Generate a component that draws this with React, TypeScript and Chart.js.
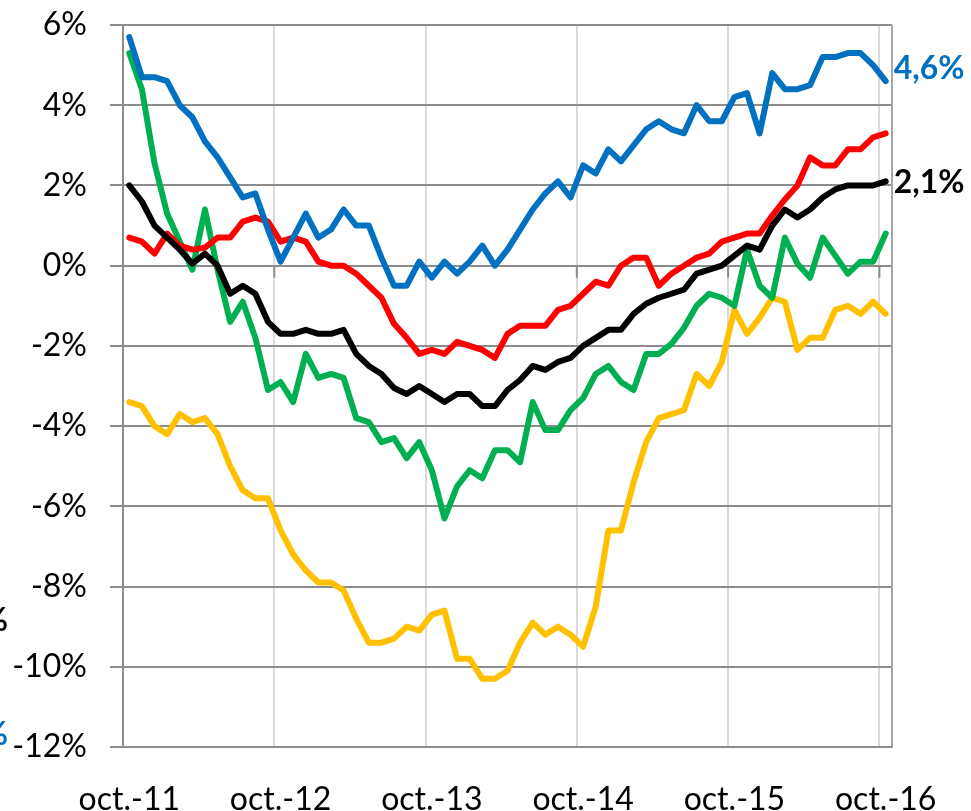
import React, { useEffect, useRef } from 'react';
import { Chart, registerables } from 'chart.js';

Chart.register(...registerables);

const categories = [
  'oct.-11', 'nov.-11', 'déc.-11',
  'janv.-12', 'févr.-12', 'mars-12', 'avr.-12', 'mai-12', 'juin-12', 'juil.-12', 'août-12', 'sept.-12', 'oct.-12', 'nov.-12', 'déc.-12',
  'janv.-13', 'févr.-13', 'mars-13', 'avr.-13', 'mai-13', 'juin-13', 'juil.-13', 'août-13', 'sept.-13', 'oct.-13', 'nov.-13', 'déc.-13',
  'janv.-14', 'févr.-14', 'mars-14', 'avr.-14', 'mai-14', 'juin-14', 'juil.-14', 'août-14', 'sept.-14', 'oct.-14', 'nov.-14', 'déc.-14',
  'janv.-15', 'févr.-15', 'mars-15', 'avr.-15', 'mai-15', 'juin-15', 'juil.-15', 'août-15', 'sept.-15', 'oct.-15', 'nov.-15', 'déc.-15',
  'janv.-16', 'févr.-16', 'mars-16', 'avr.-16', 'mai-16', 'juin-16', 'juil.-16', 'août-16', 'sept.-16', 'oct.-16',
];

const shownTickLabels = ['oct.-11', 'oct.-12', 'oct.-13', 'oct.-14', 'oct.-15', 'oct.-16'];

const blueSeries = [
  5.7, 4.7, 4.7, 4.6, 4.0, 3.7, 3.1, 2.7, 2.2, 1.7,
  1.8, 0.9, 0.1, 0.7, 1.3, 0.7, 0.9, 1.4, 1.0, 1.0,
  0.2, -0.5, -0.5, 0.1, -0.3, 0.1, -0.2, 0.1, 0.5, 0.0,
  0.4, 0.9, 1.4, 1.8, 2.1, 1.7, 2.5, 2.3, 2.9, 2.6,
  3.0, 3.4, 3.6, 3.4, 3.3, 4.0, 3.6, 3.6, 4.2, 4.3,
  3.3, 4.8, 4.4, 4.4, 4.5, 5.2, 5.2, 5.3, 5.3, 5.0, 4.6,
];

const redSeries = [
  0.7, 0.6, 0.3, 0.8, 0.5, 0.4, 0.45, 0.7, 0.7, 1.1,
  1.2, 1.1, 0.6, 0.7, 0.6, 0.1, 0.0, 0.0, -0.2, -0.5,
  -0.8, -1.45, -1.8, -2.2, -2.1, -2.2, -1.9, -2.0, -2.1, -2.3,
  -1.7, -1.5, -1.5, -1.5, -1.1, -1.0, -0.7, -0.4, -0.5, 0.0,
  0.2, 0.2, -0.5, -0.2, 0.0, 0.2, 0.3, 0.6, 0.7, 0.8,
  0.8, 1.25, 1.65, 2.0, 2.7, 2.5, 2.5, 2.9, 2.9, 3.2, 3.3,
];

const blackSeries = [
  2.0, 1.6, 1.0, 0.7, 0.4, 0.05, 0.3, 0.0, -0.7, -0.5,
  -0.7, -1.4, -1.7, -1.7, -1.6, -1.7, -1.7, -1.6, -2.2, -2.5,
  -2.7, -3.05, -3.2, -3.0, -3.2, -3.4, -3.2, -3.2, -3.5, -3.5,
  -3.1, -2.85, -2.5, -2.6, -2.4, -2.3, -2.0, -1.8, -1.6, -1.6,
  -1.2, -0.95, -0.8, -0.7, -0.6, -0.2, -0.1, 0.0, 0.25, 0.5,
  0.4, 1.0, 1.4, 1.2, 1.4, 1.7, 1.9, 2.0, 2.0, 2.0, 2.1,
];

const greenSeries = [
  5.3, 4.4, 2.55, 1.3, 0.6, -0.1, 1.4, -0.1, -1.4, -0.9,
  -1.8, -3.1, -2.9, -3.4, -2.2, -2.8, -2.7, -2.8, -3.8, -3.9,
  -4.4, -4.3, -4.8, -4.4, -5.1, -6.3, -5.5, -5.1, -5.3, -4.6,
  -4.6, -4.9, -3.4, -4.1, -4.1, -3.6, -3.3, -2.7, -2.5, -2.9,
  -3.1, -2.2, -2.2, -1.95, -1.55, -1.0, -0.7, -0.8, -1.0, 0.4,
  -0.5, -0.8, 0.7, 0.05, -0.3, 0.7, 0.25, -0.2, 0.1, 0.1, 0.8,
];

const yellowSeries = [
  -3.4, -3.5, -4.0, -4.2, -3.7, -3.9, -3.8, -4.2, -5.0, -5.6,
  -5.8, -5.8, -6.6, -7.2, -7.6, -7.9, -7.9, -8.1, -8.8, -9.4,
  -9.4, -9.3, -9.0, -9.1, -8.7, -8.6, -9.8, -9.8, -10.3, -10.3,
  -10.1, -9.4, -8.9, -9.2, -9.0, -9.2, -9.5, -8.5, -6.6, -6.6,
  -5.4, -4.4, -3.8, -3.7, -3.6, -2.7, -3.0, -2.4, -1.1, -1.7,
  -1.3, -0.8, -0.9, -2.1, -1.8, -1.8, -1.1, -1.0, -1.2, -0.9, -1.2,
];

const yMin = -12;
const yMax = 6;
const yStep = 2;

const BLUE = '#0070C0';
const BLACK = '#000000';
const RED = '#FF0000';
const GREEN = '#00B050';
const YELLOW = '#FFC000';
const FONT = 'Lato';
const FONT_SIZE = 32;
const LINE_W = 6;

const fmt = (v: number) => v.toFixed(1).replace('.', ',') + '%';

const extrasPlugin = {
  id: 'extras',
  beforeDatasetsDraw(chart: any) {
    const { ctx, chartArea, scales } = chart;
    const xs = scales.x;
    const ys = scales.y;
    ctx.save();
    ctx.strokeStyle = '#a6a6a6';
    ctx.lineWidth = 2;
    ctx.beginPath();
    ctx.moveTo(chartArea.right, chartArea.top);
    ctx.lineTo(chartArea.right, chartArea.bottom);
    ctx.stroke();
    const y0 = ys.getPixelForValue(0);
    const half = (xs.getPixelForTick(1) - xs.getPixelForTick(0)) / 2;
    ctx.strokeStyle = '#8c8c8c';
    for (let i = 12; i < categories.length; i += 12) {
      const px = xs.getPixelForTick(i) - half;
      ctx.beginPath();
      ctx.moveTo(px, y0);
      ctx.lineTo(px, y0 + 12);
      ctx.stroke();
    }
    ctx.restore();
  },
  afterDatasetsDraw(chart: any) {
    const { ctx } = chart;
    ctx.save();
    ctx.font = `bold ${FONT_SIZE}px ${FONT}`;
    ctx.textBaseline = 'middle';
    ctx.textAlign = 'left';
    const blueMeta = chart.getDatasetMeta(0);
    const bLast = blueMeta.data[blueMeta.data.length - 1];
    ctx.fillStyle = BLUE;
    ctx.fillText(fmt(blueSeries[blueSeries.length - 1]), bLast.x + 8, bLast.y - 12);
    const blackMeta = chart.getDatasetMeta(1);
    const kLast = blackMeta.data[blackMeta.data.length - 1];
    ctx.fillStyle = BLACK;
    ctx.fillText(fmt(blackSeries[blackSeries.length - 1]), kLast.x + 8, kLast.y + 1);
    ctx.textAlign = 'right';
    ctx.fillStyle = BLACK;
    ctx.fillText('%', 8, 621);
    ctx.fillStyle = BLUE;
    ctx.fillText('%', 8, 735);
    ctx.restore();
  },
};

export default function App() {
  const canvasRef = useRef<HTMLCanvasElement | null>(null);

  useEffect(() => {
    const canvas = canvasRef.current;
    if (!canvas) return;
    const mk = (data: number[], color: string) => ({
      data,
      borderColor: color,
      backgroundColor: color,
      borderWidth: LINE_W,
      pointRadius: 0,
      tension: 0,
      fill: false,
      borderJoinStyle: 'round',
      borderCapStyle: 'round',
    });
    const chart = new Chart(canvas, {
      type: 'line',
      data: {
        labels: categories,
        datasets: [
          mk(blueSeries, BLUE),
          mk(blackSeries, BLACK),
          mk(redSeries, RED),
          mk(greenSeries, GREEN),
          mk(yellowSeries, YELLOW),
        ],
      },
      options: {
        animation: false,
        responsive: false,
        layout: { padding: { left: 0, right: 79, top: 25, bottom: 0 } },
        plugins: { legend: { display: false }, tooltip: { enabled: false } },
        scales: {
          x: {
            type: 'category',
            offset: true,
            grid: {
              offset: true,
              drawTicks: false,
              lineWidth: 2,
              color: (c: any) =>
                c.index !== undefined && c.index % 12 === 0 ? '#d9d9d9' : 'rgba(0,0,0,0)',
            },
            border: { display: true, color: '#8c8c8c', width: 2 },
            ticks: {
              autoSkip: false,
              maxRotation: 0,
              minRotation: 0,
              padding: 33,
              color: '#000',
              font: { family: FONT, size: FONT_SIZE },
              callback: (_v: any, i: number) =>
                shownTickLabels.includes(categories[i]) ? categories[i] : '',
            },
            afterFit: (s: any) => {
              s.height = 64;
              s.paddingLeft = 0;
              s.paddingRight = 0;
            },
          },
          y: {
            min: yMin,
            max: yMax,
            ticks: {
              stepSize: yStep,
              padding: 23,
              color: '#000',
              font: { family: FONT, size: FONT_SIZE },
              callback: (v: any) => `${v}%`,
            },
            grid: { color: '#8c8c8c', lineWidth: 2, tickLength: 13, drawTicks: true },
            border: { display: true, color: '#8c8c8c', width: 2 },
            afterFit: (s: any) => {
              s.width = 123;
              s.paddingTop = 0;
              s.paddingBottom = 0;
            },
          },
        },
      } as any,
      plugins: [extrasPlugin],
    });
    return () => chart.destroy();
  }, []);

  return (
    <div style={{ position: 'absolute', left: 0, top: 0, width: 971, height: 811, background: '#fff' }}>
      <canvas ref={canvasRef} width={971} height={811} style={{ width: 971, height: 811, display: 'block' }} />
    </div>
  );
}
